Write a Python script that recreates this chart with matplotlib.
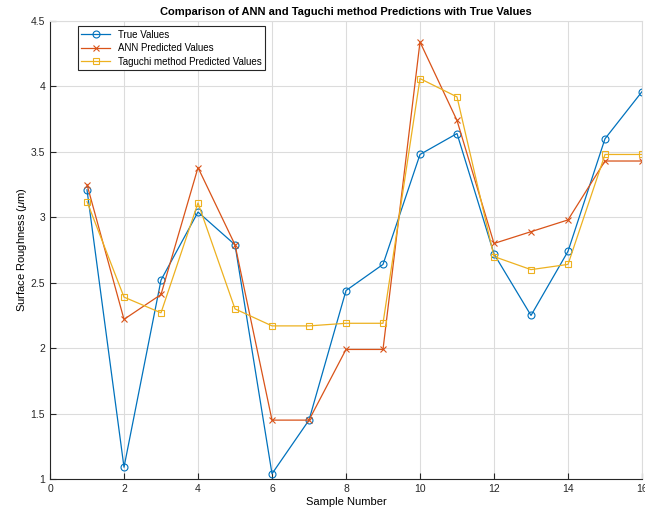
import matplotlib
matplotlib.use("Agg")
import matplotlib.pyplot as plt

plt.rcParams["font.family"] = ["Liberation Sans", "DejaVu Sans"]
plt.rcParams["mathtext.fontset"] = "custom"
plt.rcParams["mathtext.rm"] = "Liberation Sans"
plt.rcParams["mathtext.it"] = "Liberation Sans:italic"

# data
samples = list(range(1, 17))
true_vals = [3.21, 1.09, 2.52, 3.04, 2.79, 1.04, 1.45, 2.44,
             2.64, 3.48, 3.64, 2.72, 2.25, 2.74, 3.60, 3.96]
ann_vals = [3.25, 2.22, 2.41, 3.38, 2.79, 1.45, 1.45, 1.99,
            1.99, 4.34, 3.74, 2.80, 2.89, 2.98, 3.43, 3.43]
taguchi_vals = [3.12, 2.39, 2.27, 3.11, 2.30, 2.17, 2.17, 2.19,
                2.19, 4.06, 3.92, 2.70, 2.60, 2.64, 3.48, 3.48]

fig = plt.figure(figsize=(6.45, 5.13), dpi=100)
ax = fig.add_axes([50 / 645, 1 - 479 / 513, 592 / 645, 458 / 513])

ax.plot(samples, true_vals, color="#0072BD", marker="o", mfc="none",
        ms=5, mew=0.8, lw=0.9, label="True Values")
ax.plot(samples, ann_vals, color="#D95319", marker="x",
        ms=4, mew=0.8, lw=0.9, label="ANN Predicted Values")
ax.plot(samples, taguchi_vals, color="#EDB120", marker="s", mfc="none",
        ms=5, mew=0.8, lw=0.9, label="Taguchi method Predicted Values")

ax.set_xlim(0, 16)
ax.set_ylim(1, 4.5)
ax.set_xticks(range(0, 17, 2))
ax.set_yticks([1, 1.5, 2, 2.5, 3, 3.5, 4, 4.5])
ax.set_yticklabels(["1", "1.5", "2", "2.5", "3", "3.5", "4", "4.5"])
ax.tick_params(direction="in", labelsize=7.5, colors="#262626", length=4)
ax.grid(True, color="#dcdcdc", lw=0.8)
ax.set_axisbelow(True)
for s in ["top", "right"]:
    ax.spines[s].set_color("#dcdcdc")
for s in ["left", "bottom"]:
    ax.spines[s].set_color("#262626")

ax.set_title("Comparison of ANN and Taguchi method Predictions with True Values",
             fontsize=8, fontweight="bold", pad=4)
ax.set_xlabel("Sample Number", fontsize=8, labelpad=2)
ax.set_ylabel(r"Surface Roughness ($\mu$m)", fontsize=8, labelpad=1)

leg = ax.legend(loc="upper left", bbox_to_anchor=(0.047, 0.988), borderaxespad=0,
                fontsize=7, fancybox=False, framealpha=1, edgecolor="#262626",
                borderpad=0.35, labelspacing=0.35, handlelength=3)
leg.get_frame().set_linewidth(0.8)

fig.savefig("out.png", dpi=100)
